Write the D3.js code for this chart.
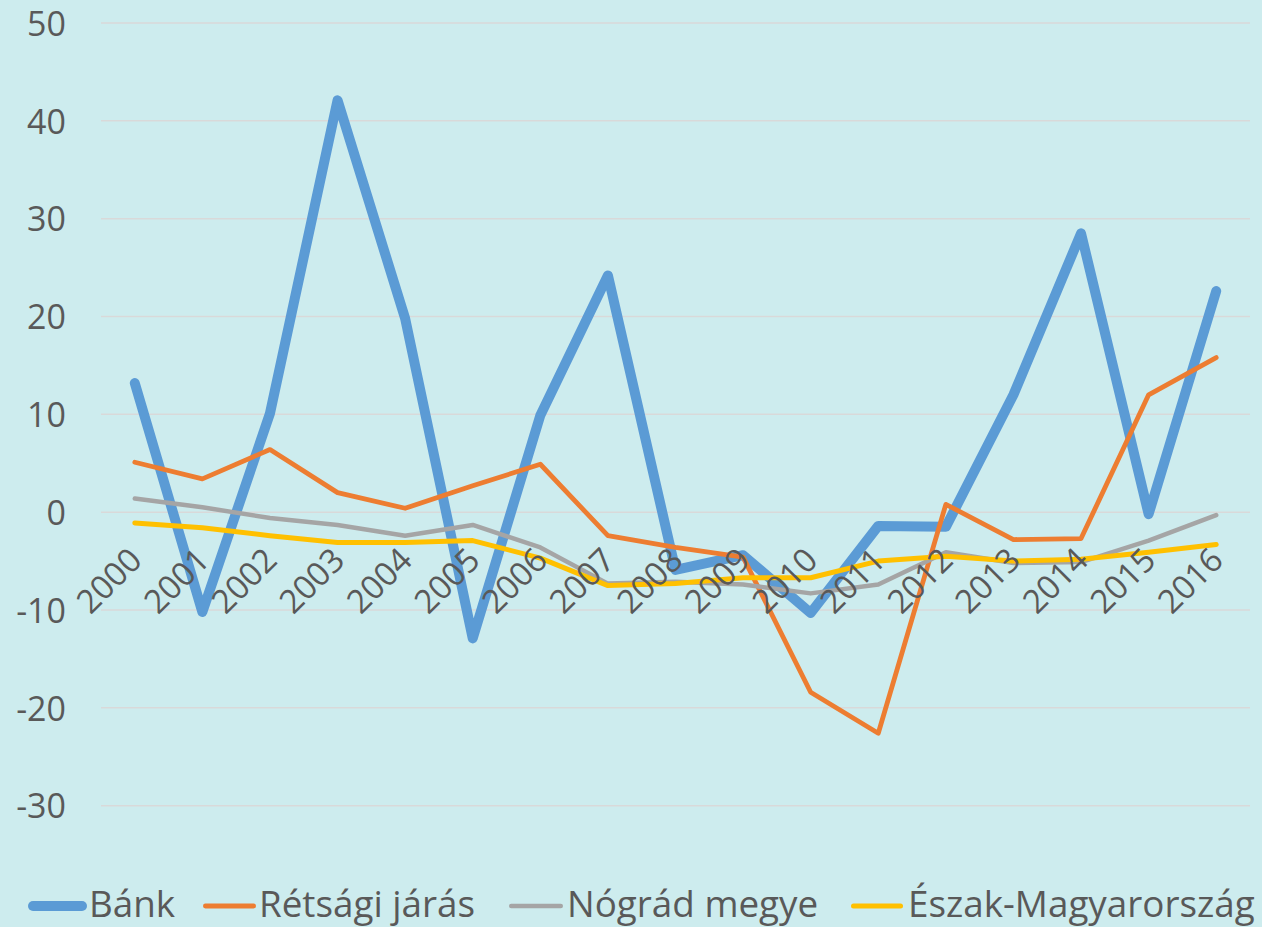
<!DOCTYPE html>
<html><head><meta charset="utf-8">
<script src="https://cdn.jsdelivr.net/npm/d3@7"></script>
<style>
html,body{margin:0;padding:0;background:#CDECEE;}
svg{display:block;font-family:"Open Sans",sans-serif;}
</style></head>
<body>
<svg id="chart" width="1262" height="927"></svg>
<script>
const years = ["2000","2001","2002","2003","2004","2005","2006","2007","2008","2009","2010","2011","2012","2013","2014","2015","2016"];
const bank = [13.2,-10.2,10.1,42.1,19.8,-12.9,9.9,24.2,-5.9,-4.4,-10.3,-1.4,-1.5,12.0,28.5,-0.2,22.6];
const retsag = [5.1,3.4,6.4,2.0,0.4,2.7,4.9,-2.4,-3.6,-4.6,-18.4,-22.6,0.8,-2.8,-2.7,12.0,15.8];
const nograd = [1.4,0.5,-0.6,-1.3,-2.4,-1.3,-3.6,-7.3,-7.1,-7.4,-8.3,-7.4,-4.1,-5.2,-5.1,-2.9,-0.3];
const eszak = [-1.1,-1.6,-2.4,-3.1,-3.1,-2.9,-4.7,-7.5,-7.3,-6.7,-6.7,-5.0,-4.5,-5.0,-4.8,-4.1,-3.3];
const yTicks = [50,40,30,20,10,0,-10,-20,-30];
const seriesNames = ["Bánk","Rétsági járás","Nógrád megye","Észak-Magyarország"];

const colors = ["#5B9BD5","#ED7D31","#A5A5A5","#FFC000"];
const widths = [10,4.8,4.5,5];
const seriesData = [bank, retsag, nograd, eszak];

const svg = d3.select("#chart");
svg.append("rect").attr("width",1262).attr("height",927).attr("fill","#CDECEE");

const x = d3.scaleBand().domain(years).range([101,1250]);
const y = d3.scaleLinear().domain([-30,50]).range([805.7,23]);
const cx = d => x(d) + x.bandwidth()/2;

// gridlines
svg.append("g").selectAll("line").data(yTicks).join("line")
  .attr("x1",101).attr("x2",1250)
  .attr("y1",d=>y(d)).attr("y2",d=>y(d))
  .attr("stroke","#D9D9D9").attr("stroke-width",1.5);

// y axis labels
const yAxis = d3.axisLeft(y).tickValues(yTicks).tickSize(0).tickPadding(0).tickFormat(d=>String(d));
const ya = svg.append("g").attr("transform","translate(66,0)").call(yAxis);
ya.select(".domain").remove();
ya.selectAll("text").attr("font-size",34).attr("fill","#595959").attr("font-family","'Open Sans',sans-serif").attr("dy","0.36em");

// lines
const line = d3.line().x((d,i)=>cx(years[i])).y(d=>y(d));
const order = [0,1,2,3];
svg.append("g").selectAll("path").data(order).join("path")
  .attr("d",k=>line(seriesData[k]))
  .attr("fill","none")
  .attr("stroke",k=>colors[k])
  .attr("stroke-width",k=>widths[k])
  .attr("stroke-linejoin","round")
  .attr("stroke-linecap","round");

// x axis labels at y=0 (drawn above the lines)
const xAxis = d3.axisBottom(x).tickSize(0).tickPadding(0);
const xa = svg.append("g").attr("transform",`translate(0,${y(0)})`).call(xAxis);
xa.select(".domain").remove();
xa.selectAll("text")
  .attr("font-size",33).attr("fill","#595959").attr("font-family","'Open Sans',sans-serif")
  .attr("text-anchor","end").attr("dy",null).attr("y",0)
  .attr("transform","translate(9,50) rotate(-45)");

// legend
const legendItems = [
  {x1:28,x2:87,tx:89},
  {x1:203,x2:256,tx:259},
  {x1:509,x2:563,tx:567},
  {x1:851,x2:903,tx:908}
];
const lg = svg.append("g");
legendItems.forEach((it,k)=>{
  lg.append("line").attr("x1",it.x1+widths[k]/2).attr("x2",it.x2-widths[k]/2)
    .attr("y1",906).attr("y2",906)
    .attr("stroke",colors[k]).attr("stroke-width",widths[k]).attr("stroke-linecap","round");
  lg.append("text").attr("x",it.tx).attr("y",917)
    .attr("font-size",36.8).attr("fill","#595959")
    .text(seriesNames[k]);
});
</script>
</body></html>
